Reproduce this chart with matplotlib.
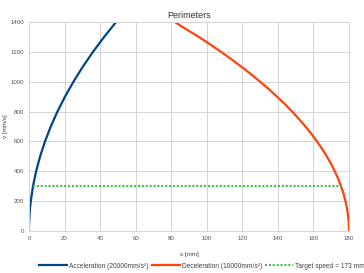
import matplotlib

matplotlib.use('Agg')
import matplotlib.pyplot as plt

plt.rcParams['font.family'] = ['Liberation Sans', 'DejaVu Sans']

# values
acc_s = [0, 0.016, 0.0625, 0.25, 0.56, 1, 2.25, 4, 6.25, 9, 12.25, 16, 20.25, 25, 30.25, 36, 42.25, 49]
acc_v = [0, 25, 50, 100, 150, 200, 300, 400, 500, 600, 700, 800, 900, 1000, 1100, 1200, 1300, 1400]

dec_s = [82, 88.6, 95.5, 101.9, 108, 113.9, 119.5, 124.9, 130, 134.9, 139.5, 143.9, 148,
         151.9, 155.5, 158.9, 162, 164.9, 167.5, 169.9, 172, 173.9, 175.5, 176.9, 178,
         178.9, 179.5, 179.875, 180]
dec_v = [1400, 1350, 1300, 1250, 1200, 1150, 1100, 1050, 1000, 950, 900, 850, 800,
         750, 700, 650, 600, 550, 500, 450, 400, 350, 300, 250, 200,
         150, 100, 50, 0]

target_s = [2.25, 175.5]
target_v = [300, 300]

labels = ['Acceleration (20000mm/s²)', 'Deceleration (10000mm/s²)', 'Target speed = 173 mm/s']

W, H = 364, 273
fig = plt.figure(figsize=(W / 100, H / 100), dpi=100)
ax = fig.add_axes([29 / W, (H - 231) / H, 320 / W, 209 / H])

ax.plot(acc_s, acc_v, color='#004586', lw=1.6, label=labels[0])
ax.plot(dec_s, dec_v, color='#ff420e', lw=1.6, label=labels[1])
ax.plot(target_s, target_v, color='#2cc22c', lw=1.4, ls=(0, (1, 1)), label=labels[2])

ax.set_xlim(0, 180)
ax.set_ylim(0, 1400)
ax.set_xticks(range(0, 181, 20))
ax.set_yticks(range(0, 1401, 200))
ax.grid(True, color='#d4d4d4', lw=0.7)
ax.set_axisbelow(True)
for sp in ax.spines.values():
    sp.set_color('#d4d4d4')
    sp.set_linewidth(0.7)
ax.tick_params(length=0, labelsize=4.4, colors='#555555', pad=3.5)

ax.set_title('Perimeters', fontsize=6.5, color='#333333', pad=3)
ax.set_xlabel('s [mm]', fontsize=4.5, color='#444444', labelpad=8)
ax.set_ylabel('v [mm/s]', fontsize=4.5, color='#444444')
ax.yaxis.set_label_coords(-21 / 320, 0.5)

fig.legend(loc='lower left', bbox_to_anchor=(33 / W, -0.01), ncol=3, frameon=False,
           fontsize=4.8, handlelength=4.2, handletextpad=0.3, columnspacing=0.5,
           labelcolor='#444444')

fig.savefig('out.png', dpi=100)
